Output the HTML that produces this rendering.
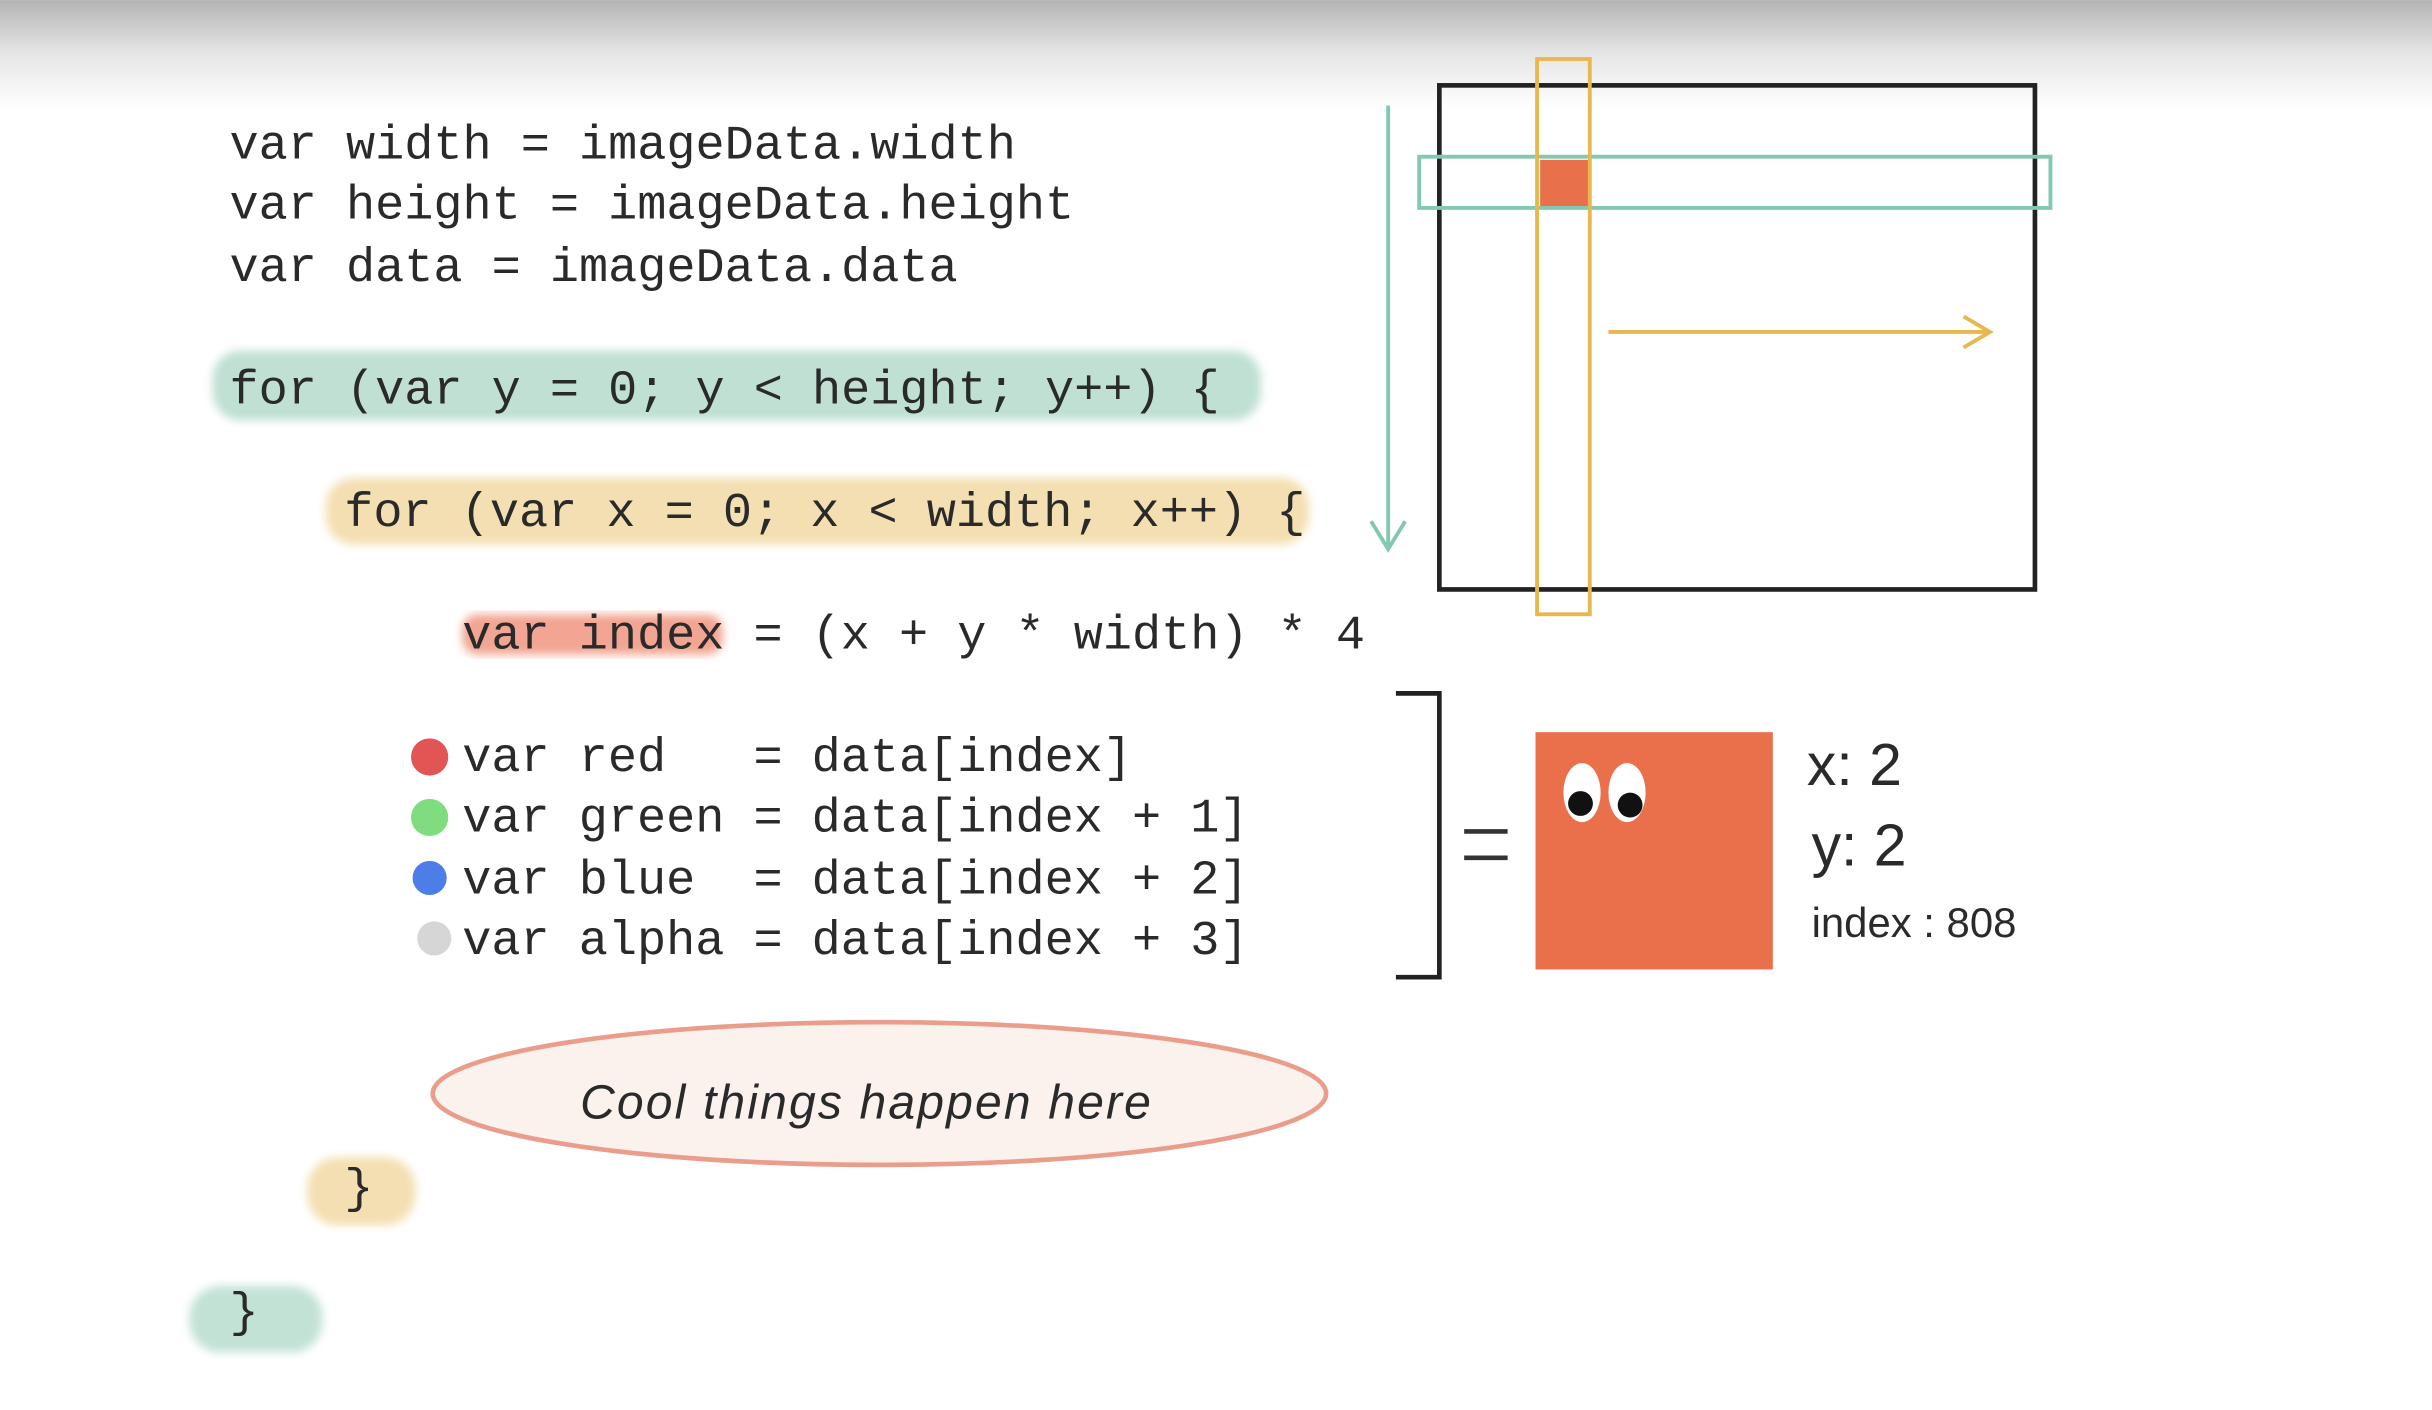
<!DOCTYPE html>
<html><head><meta charset="utf-8"><style>
html,body{margin:0;padding:0;width:2432px;height:1410px;overflow:hidden;background:#fff}
svg{display:block}
.c{font-family:"Liberation Mono",monospace;font-size:31.3px;fill:#2a2a2a;white-space:pre}
.h{font-family:"Liberation Sans",sans-serif;fill:#2a2a2a}
</style></head><body>
<svg width="2432" height="1410" viewBox="0 0 1568 909" xmlns="http://www.w3.org/2000/svg" xml:space="preserve">
<defs>
<linearGradient id="g" x1="0" y1="0" x2="0" y2="1"><stop offset="0" stop-color="#b4b4b4"/><stop offset="0.5" stop-color="#e6e6e6"/><stop offset="1" stop-color="#ffffff"/></linearGradient>
<filter id="b"><feGaussianBlur stdDeviation="3"/></filter>
</defs>
<rect width="1568" height="909" fill="#fff"/>
<rect width="1568" height="70" fill="url(#g)"/>
<rect x="137" y="226" width="676" height="45" rx="18" fill="#bfe0d3" filter="url(#b)"/>
<rect x="210" y="308" width="634" height="43" rx="18" fill="#f4dfb2" filter="url(#b)"/>
<rect x="298" y="396" width="168" height="26" rx="10" fill="#f2a592" filter="url(#b)"/>
<rect x="198" y="746" width="70" height="44" rx="20" fill="#f4dfb2" filter="url(#b)"/>
<rect x="122" y="829" width="86" height="43" rx="20" fill="#c3e2d6" filter="url(#b)"/>
<text class="c" x="148" y="102">var width = imageData.width</text>
<text class="c" x="148" y="141">var height = imageData.height</text>
<text class="c" x="148" y="181">var data = imageData.data</text>
<text class="c" x="148" y="260" fill="#3a4a44">for (var y = 0; y &lt; height; y++) {</text>
<text class="c" x="222" y="339">for (var x = 0; x &lt; width; x++) {</text>
<text class="c" x="298" y="418">var index = (x + y * width) * 4</text>
<text class="c" x="298" y="497">var red   = data[index]</text>
<text class="c" x="298" y="536">var green = data[index + 1]</text>
<text class="c" x="298" y="576">var blue  = data[index + 2]</text>
<text class="c" x="298" y="615">var alpha = data[index + 3]</text>
<text class="c" x="222" y="775">}</text>
<text class="c" x="148" y="855">}</text>
<circle cx="277" cy="488" r="12" fill="#e25555"/>
<circle cx="277" cy="527" r="12" fill="#7fdc7f"/>
<circle cx="277" cy="566" r="11" fill="#4d7de6"/>
<circle cx="280" cy="605" r="11" fill="#d6d6d6"/>
<ellipse cx="567" cy="705" rx="288" ry="46" fill="#fbf2ee" stroke="#eb9d8c" stroke-width="3"/>
<text class="h" x="374" y="721" font-size="31" font-style="italic" textLength="368">Cool things happen here</text>
<rect x="928" y="55" width="384" height="325" fill="none" stroke="#222" stroke-width="3"/>
<rect x="993" y="103" width="31" height="30" fill="#e8704a"/>
<rect x="915" y="101" width="407" height="33" fill="none" stroke="#84c8b0" stroke-width="2.5"/>
<rect x="991" y="38" width="34" height="358" fill="none" stroke="#e8b850" stroke-width="2.5"/>
<path d="M895 68 V352 M884 336 L895 354 L906 336" fill="none" stroke="#84c8b0" stroke-width="2.5"/>
<path d="M1037 214 H1282 M1266 204 L1283 214 L1266 224" fill="none" stroke="#e8b850" stroke-width="2.5"/>
<path d="M900 447 H928 V630 H900" fill="none" stroke="#222" stroke-width="3"/>
<path d="M944 536 H972 M944 553 H972" stroke="#333" stroke-width="3"/>
<rect x="990" y="472" width="153" height="153" fill="#ea704c"/>
<ellipse cx="1020" cy="511" rx="12" ry="19" fill="#fff"/>
<ellipse cx="1049" cy="511" rx="12" ry="19" fill="#fff"/>
<circle cx="1019" cy="518" r="8" fill="#111"/>
<circle cx="1051" cy="519" r="8" fill="#111"/>
<text class="h" x="1165" y="506" font-size="38">x: 2</text>
<text class="h" x="1168" y="558" font-size="38">y: 2</text>
<text class="h" x="1168" y="604" font-size="27">index : 808</text>
</svg>
</body></html>
